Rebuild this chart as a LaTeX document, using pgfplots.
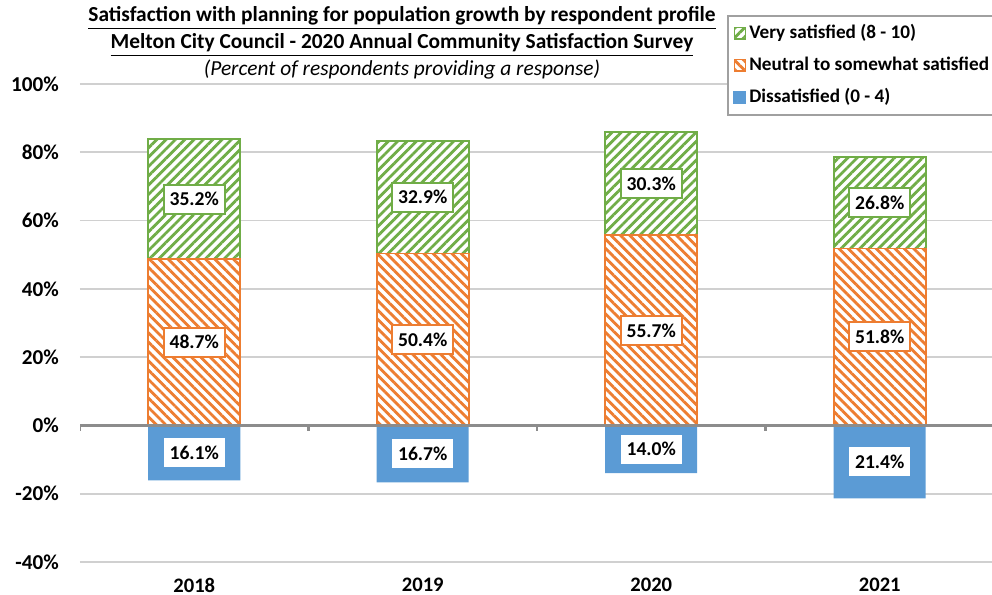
\documentclass[border=0pt]{standalone}
\usepackage{pgfplots}
\pgfplotsset{compat=1.18}
\usepackage{pgfplotstable}
\usetikzlibrary{patterns.meta}
\usepackage{fontspec}
\setmainfont{Carlito}
\definecolor{cgreen}{HTML}{70AD47}
\definecolor{corange}{HTML}{ED7D31}
\definecolor{cblue}{HTML}{5B9BD5}
\definecolor{cgrid}{HTML}{D0D0D0}
\definecolor{czero}{HTML}{8C8C8C}
\definecolor{clegend}{HTML}{A0A0A0}

\pgfplotstableread{
x neu very dis
0 48.7 35.2 -16.1
1 50.4 32.9 -16.7
2 55.7 30.3 -14.0
3 51.8 26.8 -21.4
}\data

\pgfplotsset{
  common/.style={
    scale only axis, width=457pt, height=239pt,
    xmin=-0.5, xmax=3.5, ymin=-40, ymax=100,
    at={(0,0)}, anchor=south west,
    /pgf/number format/assume math mode=true,
  },
}
\tikzset{
  lbl/.style={font=\bfseries\fontsize{9.8}{11}\selectfont, text=black, fill=white, anchor=center, line width=1pt, inner xsep=3pt, inner ysep=0pt, minimum height=14.5pt},
  orangepat/.style={draw=corange, line width=0.8pt, fill=white, postaction={pattern={Lines[angle=-45,distance=3.3pt,line width=1.4pt]}, pattern color=corange}},
  greenpat/.style={draw=cgreen, line width=0.8pt, fill=white, postaction={pattern={Lines[angle=45,distance=3.3pt,line width=1.4pt]}, pattern color=cgreen}},
}

\begin{document}
\begin{tikzpicture}
\begin{axis}[common,
  ybar stacked, bar width=46pt,
  axis line style={draw=none},
  major tick length=0pt,
  ytick={-40,-20,...,100},
  yticklabel={\pgfmathprintnumber{\tick}\%},
  yticklabel style={font=\bfseries\fontsize{10.6}{12}\selectfont, xshift=-7pt},
  xtick={0,1,2,3}, xticklabels={2018,2019,2020,2021},
  xticklabel style={font=\bfseries\fontsize{10.3}{12}\selectfont, yshift=-4.7pt},
  ymajorgrids, grid style={cgrid, line width=0.8pt},
]
\addplot[orangepat] table[x=x,y=neu]{\data};
\addplot[greenpat] table[x=x,y=very]{\data};
\end{axis}
\begin{axis}[common, hide axis,
  legend style={at={(0.708,1.1444)}, anchor=north west, draw=clegend, line width=1pt,
    font=\bfseries\fontsize{9.6}{12}\selectfont, inner sep=2.5pt, row sep=3.5pt,
    nodes={inner sep=1.5pt, text height=7.5pt, text depth=2pt}},
  legend cell align=left,
  legend image code/.code={\draw[#1] (0pt,-2.8pt) rectangle (5.6pt,2.8pt);},
]
\addplot[ybar, bar width=46pt, bar shift=0pt, fill=cblue, draw=none, forget plot] table[x=x,y=dis]{\data};
\draw[czero, line width=1.3pt] (axis cs:-0.5,0) -- (axis cs:3.5,0);
\pgfplotsinvokeforeach{-0.5,0.5,1.5,2.5}{\draw[czero, line width=1.3pt] (axis cs:#1,0) -- ++(0pt,-3pt);}
\addplot[forget plot, draw=none, mark=none, point meta=explicit,
  nodes near coords={\pgfmathprintnumber[fixed,fixed zerofill,precision=1]{\pgfplotspointmeta}\%},
  every node near coord/.append style={lbl, draw=cgreen}]
  table[x=x, y expr=\thisrow{neu}+\thisrow{very}/2, meta=very]{\data};
\addplot[forget plot, draw=none, mark=none, point meta=explicit,
  nodes near coords={\pgfmathprintnumber[fixed,fixed zerofill,precision=1]{\pgfplotspointmeta}\%},
  every node near coord/.append style={lbl, draw=corange}]
  table[x=x, y expr=\thisrow{neu}/2, meta=neu]{\data};
\addplot[forget plot, draw=none, mark=none, point meta=explicit,
  nodes near coords={\pgfmathprintnumber[fixed,fixed zerofill,precision=1]{\pgfplotspointmeta}\%},
  every node near coord/.append style={lbl, draw=none}]
  table[x=x, y expr=\thisrow{dis}/2, meta expr=-\thisrow{dis}]{\data};
\addlegendimage{greenpat, line width=0.6pt}
\addlegendentry{Very satisfied (8 - 10)}
\addlegendimage{orangepat, line width=0.6pt}
\addlegendentry{Neutral to somewhat satisfied}
\addlegendimage{legend image code/.code={\fill[cblue] (0pt,-2.8pt) rectangle (5.6pt,2.8pt);}}
\addlegendentry{Dissatisfied (0 - 4)}
\end{axis}
\node[font=\bfseries\fontsize{10.7}{12}\selectfont] at (161pt,272pt) {\underline{Satisfaction with planning for population growth by respondent profile}};
\node[font=\bfseries\fontsize{10.7}{12}\selectfont] at (161pt,258.5pt) {\underline{Melton City Council - 2020 Annual Community Satisfaction Survey}};
\node[font=\itshape\fontsize{10.7}{12}\selectfont] at (161pt,246pt) {(Percent of respondents providing a response)};
\pgfresetboundingbox
\path[use as bounding box] (-40pt,-16.5pt) rectangle (456pt,281pt);
\end{tikzpicture}
\end{document}
